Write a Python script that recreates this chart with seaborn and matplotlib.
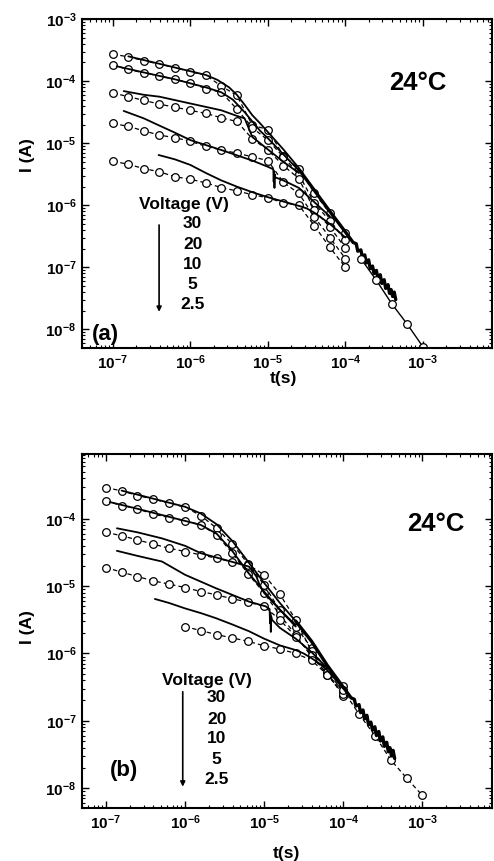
import numpy as np
import pandas as pd
import matplotlib
matplotlib.use("Agg")
import matplotlib.pyplot as plt
from matplotlib.ticker import LogLocator, FuncFormatter, NullFormatter
import seaborn as sns

# all values are log10 of time (s) and log10 of current (A)
VOLTAGES = ["30", "20", "10", "5", "2.5"]

T_GRID = [-7.0, -6.8, -6.6, -6.4, -6.2, -6.0, -5.8, -5.6, -5.4, -5.2, -5.0, -4.8, -4.6, -4.4, -4.2, -4.0]
T_GRID_LATE = [-6.0, -5.8, -5.6, -5.4, -5.2, -5.0, -4.8, -4.6, -4.4, -4.2, -4.0, -3.8, -3.6, -3.4, -3.2, -3.0]

# ---- panel (a): measured points (circles, dashed)
a_circ_30 = [-3.565, -3.608, -3.67, -3.726, -3.78, -3.85, -3.904, -4.08, -4.23, -4.71, -4.78, -5.20, -5.41, -5.80, -6.13, -6.44]
a_circ_20 = [-3.742, -3.812, -3.867, -3.915, -3.973, -4.028, -4.12, -4.18, -4.45, -4.75, -4.95, -5.22, -5.50, -5.97, -6.25, -6.56]
a_circ_10 = [-4.19, -4.25, -4.31, -4.37, -4.42, -4.47, -4.52, -4.59, -4.65, -4.93, -5.11, -5.36, -5.57, -6.08, -6.35, -6.69]
a_circ_5 = [-4.68, -4.73, -4.80, -4.87, -4.91, -4.97, -5.05, -5.11, -5.16, -5.22, -5.28, -5.63, -5.81, -6.19, -6.52, -6.86]
a_circ_25 = [-5.29, -5.34, -5.41, -5.46, -5.54, -5.58, -5.64, -5.715, -5.77, -5.83, -5.88, -5.96, -6.00, -6.33, -6.68, -7.00]
a_end_t = [-3.8, -3.6, -3.4, -3.2, -3.0]
a_end_I = [-6.86, -7.21, -7.59, -7.92, -8.28]

# panel (a): simulated curves (solid)
a_sim_30_t = [-6.8, -6.6, -6.4, -6.2, -6.0, -5.8, -5.65, -5.5, -5.4, -5.3, -5.2, -5.1, -5.0, -4.8, -4.6]
a_sim_30_I = [-3.60, -3.66, -3.72, -3.78, -3.84, -3.90, -3.98, -4.10, -4.22, -4.38, -4.55, -4.68, -4.82, -5.10, -5.40]
a_sim_20_t = [-6.95, -6.6, -6.2, -5.8, -5.6, -5.45, -5.3, -5.2, -5.1, -5.0, -4.8, -4.6]
a_sim_20_I = [-3.76, -3.86, -3.97, -4.10, -4.18, -4.30, -4.50, -4.65, -4.80, -4.92, -5.18, -5.44]
a_sim_10_t = [-6.86, -6.6, -6.4, -6.0, -5.6, -5.4, -5.3, -5.25, -5.2, -5.1, -5.0, -4.8, -4.6]
a_sim_10_I = [-4.16, -4.22, -4.25, -4.36, -4.47, -4.56, -4.60, -4.75, -4.90, -5.00, -5.10, -5.30, -5.48]
a_sim_5_t = [-6.86, -6.6, -6.41, -6.2, -6.0, -5.6, -5.2, -5.0, -4.93, -4.925, -4.92, -4.915, -4.91, -4.905, -4.8, -4.6, -4.4, -4.2]
a_sim_5_I = [-4.48, -4.60, -4.71, -4.83, -4.95, -5.11, -5.28, -5.38, -5.42, -5.62, -5.45, -5.72, -5.50, -5.55, -5.60, -5.72, -5.95, -6.18]
a_sim_25_t = [-6.41, -6.2, -6.0, -5.8, -5.6, -5.4, -5.2, -5.0, -4.8, -4.6, -4.5, -4.4, -4.2, -4.0]
a_sim_25_I = [-5.19, -5.26, -5.35, -5.48, -5.60, -5.70, -5.79, -5.87, -5.94, -6.01, -6.05, -6.12, -6.30, -6.52]
tail_t = [-4.6, -4.4, -4.2, -4.0, -3.9, -3.86, -3.84, -3.80, -3.78, -3.75, -3.73, -3.70, -3.68, -3.65,
          -3.63, -3.60, -3.58, -3.55, -3.53, -3.50, -3.48, -3.45, -3.43, -3.41, -3.39, -3.37, -3.35]
a_tail_I = [-5.42, -5.76, -6.10, -6.43, -6.60, -6.62, -6.74, -6.72, -6.84, -6.80, -6.93, -6.88, -7.02, -6.98,
            -7.10, -7.05, -7.18, -7.12, -7.26, -7.20, -7.34, -7.28, -7.42, -7.36, -7.47, -7.40, -7.52]

# ---- panel (b)
b_circ_30 = [-3.535, -3.584, -3.654, -3.707, -3.767, -3.826, -3.951, -4.139, -4.376, -4.673, -4.98, -5.36, -5.60, -5.92, -6.27, -6.49]
b_circ_20 = [-3.733, -3.802, -3.851, -3.930, -3.980, -4.030, -4.089, -4.238, -4.51, -4.82, -5.10, -5.43, -5.72, -6.05, -6.30, -6.63]
b_circ_10 = [-4.198, -4.252, -4.312, -4.376, -4.436, -4.485, -4.535, -4.584, -4.643, -4.683, -4.83, -5.12, -5.50, -5.97, -6.28, -6.56]
b_circ_5 = [-4.723, -4.792, -4.857, -4.921, -4.97, -5.02, -5.08, -5.129, -5.188, -5.237, -5.30, -5.50, -5.75, -6.02, -6.32, -6.60]
b_circ_25 = [-5.60, -5.66, -5.72, -5.77, -5.82, -5.886, -5.935, -6.00, -6.10, -6.32, -6.55, -6.90, -7.22, -7.58, -7.85, -8.11]

b_sim_30_t = [-6.8, -6.4, -6.0, -5.8, -5.6, -5.4, -5.2, -5.0, -4.8, -4.6]
b_sim_30_I = [-3.58, -3.70, -3.82, -3.92, -4.08, -4.33, -4.64, -4.95, -5.25, -5.52]
b_sim_20_t = [-6.95, -6.6, -6.2, -5.8, -5.6, -5.4, -5.2, -5.0, -4.8, -4.6]
b_sim_20_I = [-3.75, -3.85, -3.97, -4.09, -4.22, -4.48, -4.80, -5.08, -5.35, -5.58]
b_sim_10_t = [-6.86, -6.6, -6.29, -6.0, -5.8, -5.4, -5.19, -5.1, -5.05, -5.0, -4.8, -4.6]
b_sim_10_I = [-4.14, -4.20, -4.29, -4.40, -4.51, -4.64, -4.71, -4.85, -5.00, -5.10, -5.35, -5.60]
b_sim_5_t = [-6.86, -6.6, -6.29, -6.0, -5.61, -5.19, -4.98, -4.93, -4.925, -4.92, -4.915, -4.91, -4.9, -4.8, -4.6, -4.4, -4.2]
b_sim_5_I = [-4.475, -4.55, -4.634, -4.83, -5.03, -5.23, -5.30, -5.34, -5.55, -5.40, -5.68, -5.45, -5.50, -5.62, -5.78, -5.98, -6.22]
b_sim_25_t = [-6.38, -6.2, -6.0, -5.8, -5.61, -5.4, -5.19, -5.0, -4.8, -4.6, -4.5, -4.4, -4.3, -4.2, -4.0]
b_sim_25_I = [-5.19, -5.25, -5.33, -5.40, -5.475, -5.57, -5.67, -5.78, -5.88, -5.95, -6.00, -6.07, -6.15, -6.25, -6.52]
b_tail_I = [-5.52, -5.82, -6.18, -6.50, -6.66, -6.68, -6.78, -6.76, -6.88, -6.84, -6.97, -6.92, -7.06, -7.02,
            -7.14, -7.09, -7.22, -7.16, -7.30, -7.24, -7.38, -7.32, -7.46, -7.40, -7.52, -7.44, -7.56]

sns.set_theme(style="ticks")
plt.rcParams['font.family'] = ['Liberation Sans', 'DejaVu Sans']
plt.rcParams['font.weight'] = 'bold'
plt.rcParams['mathtext.fontset'] = 'custom'
plt.rcParams['mathtext.rm'] = 'Liberation Sans'
plt.rcParams['mathtext.bf'] = 'Liberation Sans:bold'

DASHED = dict(color='black', linewidth=0.9, linestyle=(0, (3.5, 2.5)), marker='o', markersize=5.5,
              markerfacecolor='white', markeredgecolor='black', markeredgewidth=0.9)
SOLID = dict(color='black', linewidth=1.3, linestyle='-')


def draw(ax, logt, logI, style):
    df = pd.DataFrame({'t': 10.0 ** np.array(logt), 'I': 10.0 ** np.array(logI)})
    sns.lineplot(data=df, x='t', y='I', ax=ax, estimator=None, sort=False, **style)


def decade_label(v, pos):
    return r'$\mathbf{10^{%d}}$' % int(round(np.log10(v)))


def style_axes(ax, xlim, ylim):
    ax.set_xscale('log')
    ax.set_yscale('log')
    ax.set_xlim(*xlim)
    ax.set_ylim(*ylim)
    for axis in (ax.xaxis, ax.yaxis):
        axis.set_major_locator(LogLocator(base=10.0, numticks=20))
        axis.set_minor_locator(LogLocator(base=10.0, subs=np.arange(2, 10), numticks=20))
        axis.set_major_formatter(FuncFormatter(decade_label))
        axis.set_minor_formatter(NullFormatter())
    ax.tick_params(which='major', direction='in', top=True, right=True, length=5, width=1.0,
                   labelsize=11, pad=4, color='black', labelcolor='black')
    ax.tick_params(which='minor', direction='in', top=True, right=True, length=2.5, width=0.8,
                   color='black')
    for sp in ax.spines.values():
        sp.set_linewidth(1.5)
        sp.set_color('black')
    ax.set_xlabel('t(s)', fontsize=12.5, fontweight='bold', color='black')
    ax.set_ylabel('I (A)', fontsize=12.5, fontweight='bold', color='black')


def voltage_key(ax, head_xy, num_x, num_y, arrow_x, arrow_y):
    ax.text(head_xy[0], head_xy[1], 'Voltage (V)', transform=ax.transAxes, ha='center', va='center',
            fontsize=12.5, fontweight='bold', color='black')
    for v, y in zip(VOLTAGES, num_y):
        ax.text(num_x, y, v, transform=ax.transAxes, ha='center', va='center',
                fontsize=12.5, fontweight='bold', color='black')
    ax.annotate('', xy=(arrow_x, arrow_y[1]), xytext=(arrow_x, arrow_y[0]), xycoords='axes fraction',
                arrowprops=dict(arrowstyle='-|>', color='black', lw=1.2, mutation_scale=7,
                                shrinkA=0, shrinkB=0))


fig = plt.figure(figsize=(4.94, 8.61), dpi=100)
ax_a = fig.add_axes([0.166, 0.5958, 0.830, 0.382])
ax_b = fig.add_axes([0.166, 0.0612, 0.830, 0.4115])

# panel (a)
style_axes(ax_a, (4e-8, 7.8e-3), (5e-9, 1e-3))
for circ in (a_circ_30, a_circ_20, a_circ_10, a_circ_5, a_circ_25):
    draw(ax_a, T_GRID, circ, DASHED)
for st, si in ((a_sim_30_t, a_sim_30_I), (a_sim_20_t, a_sim_20_I), (a_sim_10_t, a_sim_10_I),
               (a_sim_5_t, a_sim_5_I), (a_sim_25_t, a_sim_25_I)):
    draw(ax_a, st, si, SOLID)
draw(ax_a, tail_t, a_tail_I, dict(SOLID, linewidth=2.4))
draw(ax_a, a_end_t, a_end_I, dict(DASHED, linestyle='-', linewidth=1.0))
ax_a.text(0.820, 0.807, '24°C', transform=ax_a.transAxes, ha='center', va='center',
          fontsize=18.5, fontweight='bold', color='black')
ax_a.text(0.058, 0.040, '(a)', transform=ax_a.transAxes, ha='center', va='center',
          fontsize=16, fontweight='bold', color='black')
voltage_key(ax_a, (0.248, 0.435), 0.270, [0.3775, 0.3137, 0.2551, 0.1944, 0.1336], 0.188, (0.374, 0.110))
ax_a.xaxis.set_label_coords(0.491, -0.069)
ax_a.yaxis.set_label_coords(-0.115, 0.587)

# panel (b)
style_axes(ax_b, (5e-8, 7.6e-3), (5e-9, 9.2e-4))
for circ in (b_circ_30, b_circ_20, b_circ_10, b_circ_5):
    draw(ax_b, T_GRID, circ, DASHED)
draw(ax_b, T_GRID_LATE, b_circ_25, DASHED)
for st, si in ((b_sim_30_t, b_sim_30_I), (b_sim_20_t, b_sim_20_I), (b_sim_10_t, b_sim_10_I),
               (b_sim_5_t, b_sim_5_I), (b_sim_25_t, b_sim_25_I)):
    draw(ax_b, st, si, SOLID)
draw(ax_b, tail_t, b_tail_I, dict(SOLID, linewidth=2.4))
ax_b.text(0.8625, 0.8025, '24°C', transform=ax_b.transAxes, ha='center', va='center',
          fontsize=18.5, fontweight='bold', color='black')
ax_b.text(0.102, 0.108, '(b)', transform=ax_b.transAxes, ha='center', va='center',
          fontsize=16, fontweight='bold', color='black')
voltage_key(ax_b, (0.305, 0.362), 0.3285, [0.312, 0.252, 0.198, 0.139, 0.0827], 0.2457, (0.329, 0.061))
ax_b.xaxis.set_label_coords(0.499, -0.106)
ax_b.yaxis.set_label_coords(-0.115, 0.512)

fig.savefig('out.png', dpi=100, facecolor='white')
